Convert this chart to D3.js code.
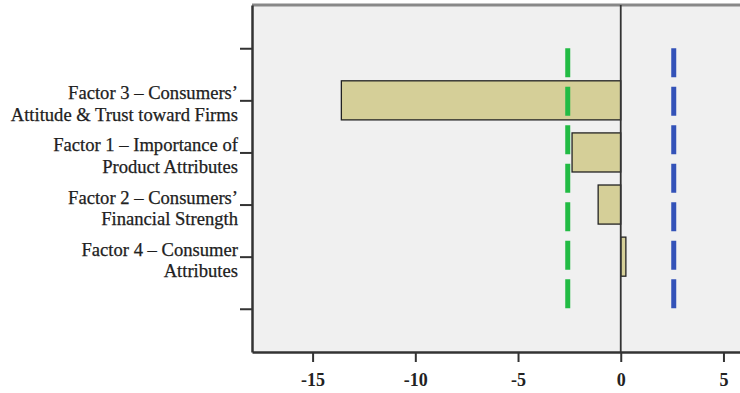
<!DOCTYPE html>
<html>
<head>
<meta charset="utf-8">
<script src="https://cdn.jsdelivr.net/npm/d3@7"></script>
<style>
  body { margin: 0; background: #fff; }
  text { font-family: "Liberation Serif", "DejaVu Serif", serif; fill: #222; }
</style>
</head>
<body>
<div id="chart"></div>
<script>
// categories top to bottom, blank slots keep the empty ticks at both ends
const categories = ["_top", "f3", "f1", "f2", "f4", "_bottom"];
const labels = {
  f3: ["Factor 3 \u2013 Consumers\u2019", "Attitude & Trust toward Firms"],
  f1: ["Factor 1 \u2013 Importance of", "Product Attributes"],
  f2: ["Factor 2 \u2013 Consumers\u2019", "Financial Strength"],
  f4: ["Factor 4 \u2013 Consumer", "Attributes"]
};
const factors = ["f3", "f1", "f2", "f4"];
const values = [-13.6, -2.37, -1.1, 0.25];
const criticalLow = -2.58;
const criticalHigh = 2.58;
const xTicks = [-15, -10, -5, 0, 5];

const width = 740, height = 393;
const margin = { top: 5, right: -4, bottom: 41, left: 252 };

const svg = d3.select("#chart").append("svg")
  .attr("width", width)
  .attr("height", height);

const x = d3.scaleLinear()
  .domain([-17.95, 6.0])
  .range([margin.left, width - margin.right]);

const y = d3.scalePoint()
  .domain(categories)
  .range([margin.top, height - margin.bottom])
  .padding(0.83);

const step = y.step();
const barH = step * 0.75;

// plot background
svg.append("rect")
  .attr("x", margin.left)
  .attr("y", margin.top)
  .attr("width", width - margin.right - margin.left)
  .attr("height", height - margin.bottom - margin.top)
  .attr("fill", "#f0f0f0");

// top border (greyish)
svg.append("line")
  .attr("x1", margin.left).attr("x2", width)
  .attr("y1", margin.top).attr("y2", margin.top)
  .attr("stroke", "#888").attr("stroke-width", 3);

// bars
svg.append("g").selectAll("rect")
  .data(factors)
  .join("rect")
  .attr("x", (d, i) => x(Math.min(0, values[i])))
  .attr("y", d => y(d) - barH / 2)
  .attr("width", (d, i) => Math.abs(x(values[i]) - x(0)))
  .attr("height", barH)
  .attr("fill", "#d5cf98")
  .attr("stroke", "#222")
  .attr("stroke-width", 1.3);

// zero reference line
svg.append("line")
  .attr("x1", x(0)).attr("x2", x(0))
  .attr("y1", margin.top).attr("y2", height - margin.bottom)
  .attr("stroke", "#333").attr("stroke-width", 1.8);

// critical value lines
[[criticalLow, "#22bb44"], [criticalHigh, "#3352b8"]].forEach(([v, c]) => {
  svg.append("line")
    .attr("x1", x(v)).attr("x2", x(v))
    .attr("y1", y("_top")).attr("y2", y("_bottom"))
    .attr("stroke", c)
    .attr("stroke-width", 5)
    .attr("stroke-dasharray", "29,9.5");
});

// x axis
const xAxis = svg.append("g")
  .attr("transform", "translate(0," + (height - margin.bottom) + ")")
  .call(d3.axisBottom(x).tickValues(xTicks).tickSize(10).tickSizeOuter(0).tickFormat(d3.format("d")));
xAxis.select(".domain").attr("stroke", "#333").attr("stroke-width", 2.5);
xAxis.selectAll(".tick line").attr("stroke", "#333").attr("stroke-width", 2);
xAxis.selectAll(".tick text")
  .attr("y", 21)
  .attr("font-size", 18)
  .attr("font-weight", "bold")
  .attr("fill", "#222")
  .text(d => d < 0 ? "-" + Math.abs(d) : d);

// y axis
const yAxis = svg.append("g")
  .attr("transform", "translate(" + margin.left + ",0)")
  .call(d3.axisLeft(y).tickSize(12).tickSizeOuter(0).tickFormat(""));
yAxis.select(".domain").attr("stroke", "#333").attr("stroke-width", 2.5);
yAxis.selectAll(".tick line").attr("stroke", "#333").attr("stroke-width", 2);

// two-line category labels
const lab = svg.append("g");
factors.forEach(f => {
  const t = lab.append("text")
    .attr("x", margin.left - 14)
    .attr("y", y(f) - 1)
    .attr("text-anchor", "end")
    .attr("font-size", 18.6)
    .attr("fill", "#1a1a1a")
    .attr("stroke", "#1a1a1a")
    .attr("stroke-width", 0.25);
  labels[f].forEach((line, i) => {
    t.append("tspan")
      .attr("x", margin.left - 14)
      .attr("dy", i === 0 ? 0 : 21.5)
      .text(line);
  });
});
</script>
</body>
</html>
